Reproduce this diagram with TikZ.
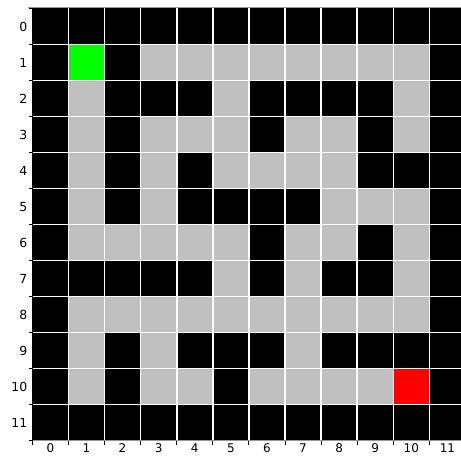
\documentclass[tikz,border=0pt]{standalone}
\usepackage{fontspec}
\setmainfont{DejaVu Sans}
\definecolor{c0}{RGB}{0,0,0}
\definecolor{c1}{RGB}{192,192,192}
\definecolor{c2}{RGB}{0,255,0}
\definecolor{c3}{RGB}{255,0,0}
\definecolor{spinegray}{RGB}{150,150,150}
\tikzset{
  gridline/.style={white, line width=1.6pt},
  tickmark/.style={black, line width=0.9pt},
  ticklabel/.style={inner sep=0pt, font=\fontsize{12.5}{15}\selectfont},
  xticklabel/.style={inner sep=0pt, font=\fontsize{12}{14}\selectfont}
}
\begin{document}
\begin{tikzpicture}[x=1pt,y=-1pt]
\useasboundingbox (0,0) rectangle (461,456);
\fill[white] (0,0) rectangle (461,456);
\begin{scope}
\clip (0,0) rectangle (461,456);
\foreach \r/\cells in {
 0/{0,0,0,0,0,0,0,0,0,0,0,0},
 1/{0,2,0,1,1,1,1,1,1,1,1,0},
 2/{0,1,0,0,0,1,0,0,0,0,1,0},
 3/{0,1,0,1,1,1,0,1,1,0,1,0},
 4/{0,1,0,1,0,1,1,1,1,0,0,0},
 5/{0,1,0,1,0,0,0,0,1,1,1,0},
 6/{0,1,1,1,1,1,0,1,1,0,1,0},
 7/{0,0,0,0,0,1,0,1,0,0,1,0},
 8/{0,1,1,1,1,1,1,1,1,1,1,0},
 9/{0,1,0,1,0,0,0,1,0,0,0,0},
 10/{0,1,0,1,1,0,1,1,1,1,3,0},
 11/{0,0,0,0,0,0,0,0,0,0,0,0}}{
  \foreach \v [count=\c from 0] in \cells {
    \fill[c\v] ({32.3+36.1*\c},{8.3+36*\r}) rectangle +(36.1,36);
  }
}
\foreach \k in {1,...,11}{
  \draw[gridline] ({32.3+36.1*\k},8.3) -- ({32.3+36.1*\k},440.3);
  \draw[gridline] (32.3,{8.3+36*\k}) -- (470,{8.3+36*\k});
}
% spines
\draw[spinegray, line width=1.2pt] (28,7.8) -- (470,7.8);
\draw[spinegray, line width=1.2pt] (32.3,440.6) -- (470,440.6);
\draw[black, line width=1pt] (32.3,7.8) -- (32.3,440.6);
% ticks
\foreach \k in {0,...,12}{
  \draw[tickmark] (28.5,{8.3+36*\k}) -- (32.3,{8.3+36*\k});
  \draw[tickmark] ({32.3+36.1*\k},440.6) -- ({32.3+36.1*\k},444.5);
}
\end{scope}
\foreach \k in {0,...,11}{
  \node[ticklabel, anchor=east] (yl\k) at (27.6,{26.8+36*\k}) {\k};
  \node[xticklabel, anchor=north] (xl\k) at ({50.35+36.1*\k},443.6) {\k};
}
\end{tikzpicture}
\end{document}
